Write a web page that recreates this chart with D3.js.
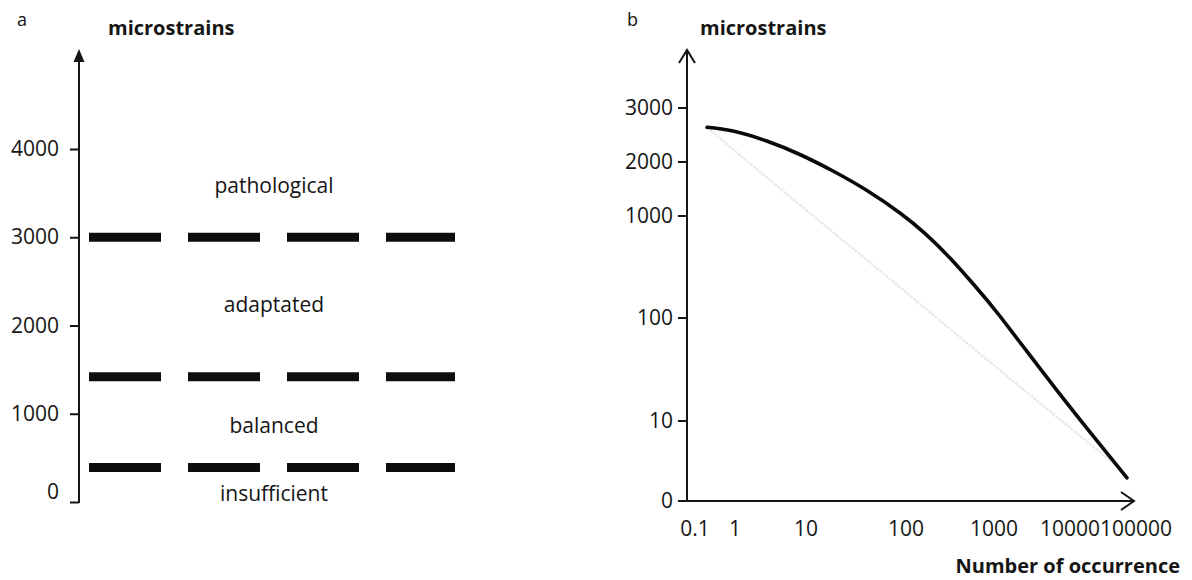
<!DOCTYPE html>
<html>
<head>
<meta charset="utf-8">
<script src="https://cdn.jsdelivr.net/npm/d3@7"></script>
<style>
  html, body { margin: 0; padding: 0; background: #fff; }
  svg { display: block; }
  text { font-family: "Open Sans", "DejaVu Sans", sans-serif; fill: #151515; }
</style>
</head>
<body>
<svg id="chart" width="1192" height="580"></svg>
<script>
// ---------- DATA ----------
// Panel a
const yTicksA = [0, 1000, 2000, 3000, 4000];
const thresholdsA = [3000, 1420, 390];
const zoneNames = ["pathological", "adaptated", "balanced", "insufficient"];
const zoneLabelValues = [3590, 2240, 870, 100];

// Panel b
const xTicksB = [0.1, 1, 10, 100, 1000, 10000, 100000];
const yTicksB = [0, 10, 100, 1000, 2000, 3000];
const curveOccurrence = [0.2, 0.89, 2.8, 8.2, 18.6, 40.7, 87, 164, 316, 608, 1200, 5450, 20100, 73000];
const curveStrain     = [2643, 2574, 2389, 2139, 1833, 1472, 1056, 675, 387, 206, 104, 24.2, 8.6, 2.9];
const faintOccurrence = [0.2, 8.2, 55, 1200, 43000];
const faintStrain     = [2640, 1204, 290, 31, 4.9];

// ---------- DRAW ----------
const svg = d3.select("#chart");
const ink = "#151515";

// ===== Panel a =====
const yA = d3.scaleLinear().domain([0, 4000]).range([502, 149]);
const axA = 79;

svg.append("text").attr("x", 17).attr("y", 26).style("font-size", "18px").text("a");
svg.append("text").attr("x", 108).attr("y", 35).style("font-size", "20px").style("font-weight", "bold").text("microstrains");

const gA = svg.append("g").attr("transform", `translate(${axA},0)`);
gA.call(d3.axisLeft(yA).tickValues(yTicksA).tickSize(9).tickPadding(11).tickFormat(d3.format("d")))
  .call(g => g.select(".domain").remove())
  .call(g => g.selectAll(".tick line").attr("stroke", ink).attr("stroke-width", 2))
  .call(g => g.selectAll(".tick text").style("font-size", "21px").attr("fill", ink)
      .attr("font-family", null)
      .attr("dy", d => d === 0 ? "-0.15em" : "0.32em"));

// axis line + filled arrow
svg.append("line").attr("x1", axA).attr("x2", axA).attr("y1", yA(0) + 1).attr("y2", 60)
  .attr("stroke", ink).attr("stroke-width", 2);
svg.append("path").attr("d", `M${axA},49 L${axA - 5.5},62 L${axA + 5.5},62 Z`).attr("fill", ink);

// threshold dashes
svg.selectAll(".thr").data(thresholdsA).join("line")
  .attr("class", "thr")
  .attr("x1", 89).attr("x2", 455)
  .attr("y1", d => yA(d)).attr("y2", d => yA(d))
  .attr("stroke", "#0d0d0d").attr("stroke-width", 9)
  .attr("stroke-dasharray", "72 27");

// zone labels
svg.selectAll(".zone").data(zoneNames).join("text")
  .attr("class", "zone")
  .attr("x", 274)
  .attr("y", (d, i) => yA(zoneLabelValues[i]))
  .attr("dy", "0.35em")
  .attr("text-anchor", "middle")
  .style("font-size", "21px")
  .text(d => d);

// ===== Panel b =====
const xPos = d3.scaleLinear().domain([-1, 0, 1, 2, 3, 4, 5]).range([695, 735, 806, 906, 994, 1070, 1136]);
const xB = v => xPos(Math.log10(v));
const tB = v => v <= 10 ? v / 10 : (v <= 1000 ? Math.log10(v) : 3 + (v - 1000) / 1000);
const yPos = d3.scaleLinear().domain([0, 1, 2, 3, 4, 5]).range([501, 421, 318, 216, 162, 108]);
const yB = v => yPos(tB(v));
const axB = 687;
const baseB = yB(0);

svg.append("text").attr("x", 627).attr("y", 26).style("font-size", "18px").text("b");
svg.append("text").attr("x", 700).attr("y", 35).style("font-size", "20px").style("font-weight", "bold").text("microstrains");

// y axis line with open arrow
svg.append("line").attr("x1", axB).attr("x2", axB).attr("y1", baseB).attr("y2", 50)
  .attr("stroke", ink).attr("stroke-width", 2);
svg.append("path").attr("d", `M${axB - 8},63 L${axB},50 L${axB + 8},63`)
  .attr("fill", "none").attr("stroke", ink).attr("stroke-width", 2);
// x axis line with open arrow
svg.append("line").attr("x1", axB).attr("x2", 1134).attr("y1", baseB).attr("y2", baseB)
  .attr("stroke", ink).attr("stroke-width", 2);
svg.append("path").attr("d", `M1121,${baseB - 9} L1134,${baseB} L1121,${baseB + 9}`)
  .attr("fill", "none").attr("stroke", ink).attr("stroke-width", 2);

// y ticks
const yTickG = svg.selectAll(".ytb").data(yTicksB).join("g").attr("class", "ytb");
yTickG.append("line")
  .attr("x1", axB - 9).attr("x2", axB)
  .attr("y1", d => yB(d)).attr("y2", d => yB(d))
  .attr("stroke", ink).attr("stroke-width", 2);
yTickG.append("text")
  .attr("x", 673).attr("y", d => yB(d)).attr("dy", "0.35em")
  .attr("text-anchor", "end").style("font-size", "21px")
  .text(d => d);

// x tick labels (no tick marks)
svg.selectAll(".xtb").data(xTicksB).join("text")
  .attr("class", "xtb")
  .attr("x", d => xB(d)).attr("y", 536)
  .attr("text-anchor", "middle").style("font-size", "21px")
  .text(d => d >= 1 ? d3.format("d")(d) : String(d));

svg.append("text").attr("x", 1180).attr("y", 573).attr("text-anchor", "end")
  .style("font-size", "20px").style("font-weight", "bold").text("Number of occurrence");

// faint reference line
const faintData = faintOccurrence.map((o, i) => [o, faintStrain[i]]);
svg.append("path")
  .attr("d", d3.line().x(d => xB(d[0])).y(d => yB(d[1])).curve(d3.curveMonotoneX)(faintData))
  .attr("fill", "none").attr("stroke", "#e6e6e6").attr("stroke-width", 2)
  .attr("stroke-dasharray", "3 1");

// main curve
const curveData = curveOccurrence.map((o, i) => [o, curveStrain[i]]);
svg.append("path")
  .attr("d", d3.line().x(d => xB(d[0])).y(d => yB(d[1])).curve(d3.curveNatural)(curveData))
  .attr("fill", "none").attr("stroke", "#0a0a0a").attr("stroke-width", 3.6)
  .attr("stroke-linecap", "round").attr("stroke-linejoin", "round");
</script>
</body>
</html>
